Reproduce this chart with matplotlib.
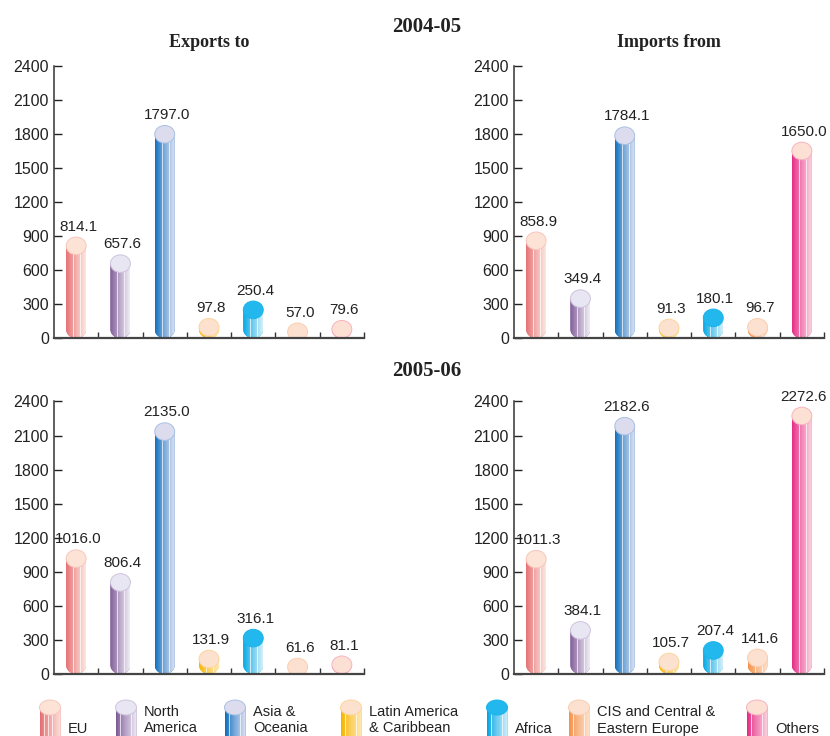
import numpy as np
import matplotlib.pyplot as plt
from matplotlib.patches import Ellipse, Polygon
from matplotlib.colors import to_rgb

plt.rcParams['font.family'] = ['Liberation Sans', 'DejaVu Sans']

# India's trade by region, US$ million
regions = ['EU', 'North America', 'Asia & Oceania', 'Latin America & Caribbean',
           'Africa', 'CIS and Central & Eastern Europe', 'Others']
legend_lines = [['EU'], ['North', 'America'], ['Asia &', 'Oceania'],
                ['Latin America', '& Caribbean'], ['Africa'],
                ['CIS and Central &', 'Eastern Europe'], ['Others']]

exports_0405 = [814.1, 657.6, 1797.0, 97.8, 250.4, 57.0, 79.6]
imports_0405 = [858.9, 349.4, 1784.1, 91.3, 180.1, 96.7, 1650.0]
exports_0506 = [1016.0, 806.4, 2135.0, 131.9, 316.1, 61.6, 81.1]
imports_0506 = [1011.3, 384.1, 2182.6, 105.7, 207.4, 141.6, 2272.6]

yticks = [0, 300, 600, 900, 1200, 1500, 1800, 2100, 2400]

# dark side, light side, top face of each cylinder
palette = [
    ('#e66e72', '#fde4dc', '#fde3d6'),
    ('#7e5a96', '#eeeaf5', '#e9e6f3'),
    ('#0d6fbf', '#dde0f1', '#dcdcee'),
    ('#f7b500', '#fee9b6', '#fde1cf'),
    ('#00a6e4', '#d0eefa', '#22b8ee'),
    ('#f4924a', '#fde2cc', '#fde1d0'),
    ('#e52a85', '#fbd3df', '#fde0d4'),
]


def stripes(dark, light, n=40):
    d, l = np.array(to_rgb(dark)), np.array(to_rgb(light))
    f = np.linspace(0, 1, n) ** 0.9
    cols = d[None, :] + (l - d)[None, :] * f[:, None]
    for p in (0.2, 0.38, 0.56, 0.74):
        k = int(p * n)
        cols[k] = cols[k] * 0.3 + 0.7
    return cols[None, :, :]


def cylinder(ax, xc, base, top, w, eh, style, z=2):
    dark, light, face = style
    x0, x1 = xc - w / 2, xc + w / 2
    c = base + eh / 2
    top_b = max(top, c)
    t = np.linspace(np.pi, 2 * np.pi, 50)
    arc = np.column_stack([xc + w / 2 * np.cos(t), c + eh / 2 * np.sin(t)])
    outline = np.vstack([[x0, top_b], arc, [x1, top_b]])
    clip = Polygon(outline, closed=True, facecolor='none', edgecolor='none')
    ax.add_patch(clip)
    body = ax.bar(xc, top_b - base, width=w, bottom=base, color=dark,
                  linewidth=0, zorder=z)
    body[0].set_clip_path(clip)
    img = ax.imshow(stripes(dark, light), extent=(x0, x1, base, top_b),
                    aspect='auto', interpolation='nearest', zorder=z)
    img.set_clip_path(clip)
    rim = np.array(to_rgb(face)) * 0.75 + np.array(to_rgb(dark)) * 0.25
    ax.add_patch(Ellipse((xc, top), w, eh, facecolor=face, edgecolor=rim,
                         linewidth=0.7, zorder=z + 0.1))


fig = plt.figure(figsize=(8.3, 7.36), dpi=100)

W, H = 830, 736


def panel(left_px, zero_px, values):
    ax = fig.add_axes([left_px / W, (H - zero_px) / H, 310 / W, 272.5 / H])
    for i, v in enumerate(values):
        cylinder(ax, i, 0, v, 0.45, 155, palette[i])
        ax.annotate(f'{v:.1f}', (i, v), xytext=(1.5, 11),
                    textcoords='offset points', ha='center', va='baseline',
                    fontsize=11, color='#222222')
    ax.set_xlim(-0.5, 6.5)
    ax.set_ylim(0, 2400)
    ax.set_yticks(yticks)
    ax.set_xticks(np.arange(0.5, 7, 1))
    ax.set_xticklabels([])
    ax.tick_params(axis='y', direction='in', length=6, width=1,
                   labelsize=11.5, pad=3.6, colors='#222222')
    ax.tick_params(axis='x', direction='in', length=4.5, width=1,
                   colors='#333333')
    for s in ('top', 'right'):
        ax.spines[s].set_visible(False)
    ax.spines['left'].set_linewidth(1.1)
    ax.spines['left'].set_color('#333333')
    ax.spines['bottom'].set_linewidth(1.6)
    ax.spines['bottom'].set_color('#444444')
    return ax


panel(54, 338.3, exports_0405)
panel(514, 338.3, imports_0405)
panel(54, 674, exports_0506)
panel(514, 674, imports_0506)

serif = dict(family=['Liberation Serif', 'DejaVu Serif'], fontweight='bold',
             color='#222222', va='baseline', ha='center')
fig.text(427 / W, (H - 32) / H, '2004-05', fontsize=15, **serif)
fig.text(209 / W, (H - 47) / H, 'Exports to', fontsize=13, **serif)
fig.text(669 / W, (H - 47) / H, 'Imports from', fontsize=13, **serif)
fig.text(427 / W, (H - 376) / H, '2005-06', fontsize=15, **serif)

# legend strip along the bottom edge, in pixel units
lg = fig.add_axes([0, 0, 1, 46 / H])
lg.set_xlim(0, W)
lg.set_ylim(0, 46)
lg.axis('off')
icon_x = [50, 126, 235, 351, 497, 579, 757]
for i, lines in enumerate(legend_lines):
    cylinder(lg, icon_x[i], -8, 28.5, 21, 15, palette[i])
    tx = icon_x[i] + 18
    if len(lines) == 1:
        lg.text(tx, 3, lines[0], fontsize=10.5, color='#222222', va='baseline')
    else:
        lg.text(tx, 19.5, lines[0], fontsize=10.5, color='#222222', va='baseline')
        lg.text(tx, 3.5, lines[1], fontsize=10.5, color='#222222', va='baseline')

fig.savefig('out.png', dpi=100)
